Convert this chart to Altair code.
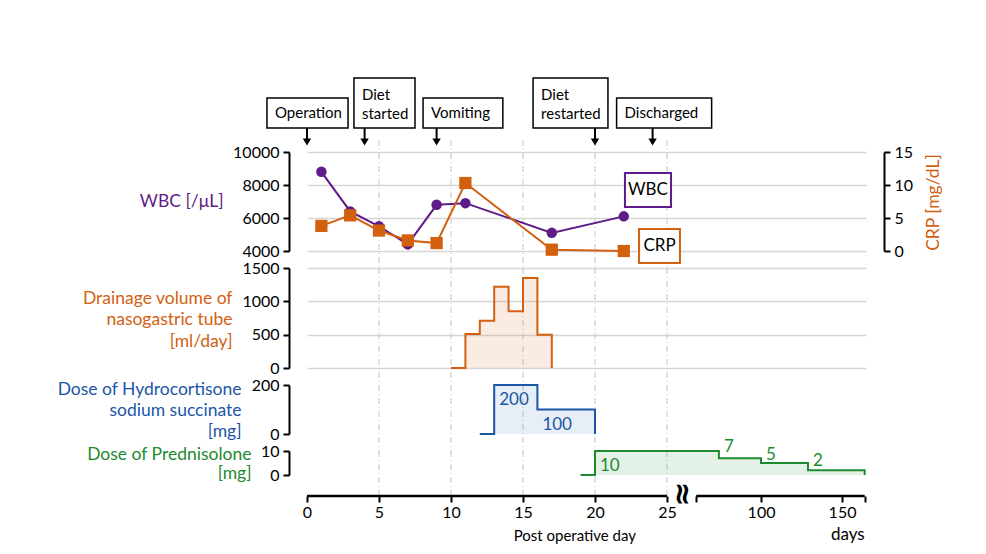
import altair as alt
import pandas as pd

FONT = "Lato"
PURPLE = "#5f1b87"
ORANGE = "#d2600f"
BLUE = "#1a56a8"
GREEN = "#1d8a30"
GRID = "#d6d6d6"
VLINE = "#c4c4c4"

# ---- broken x axis mapping (days 0-25 linear, then compressed after the break)
P100 = 31.53      # position of day 100
K = 0.1125        # position units per day after the break
X_MAX = 38.82
POS_EXPR = f"datum.day <= 25 ? datum.day : {P100} + (datum.day - 100) * {K}"


def pos(d):
    return d if d <= 25 else P100 + (d - 100) * K


# ---- data
lab_days = [1, 3, 5, 7, 9, 11, 17, 22]
wbc = [8800, 6400, 5500, 4400, 6800, 6900, 5100, 6100]
crp = [3.8, 5.4, 3.1, 1.6, 1.2, 10.3, 0.2, 0.0]

drain_days = [10, 11, 12, 13, 14, 15, 16, 17]
drain_vol = [0, 510, 710, 1220, 850, 1350, 500, 0]

hydro_days = [12, 13, 16, 20]
hydro_dose = [0, 200, 100, 0]
hydro_lab_days = [13, 16]
hydro_lab_val = [139, 38]
hydro_lab_txt = ["200", "100"]

pred_days = [19, 20, 74, 100, 129, 164]
pred_dose = [0, 10, 7, 5, 2, 0]
pred_lab_days = [20, 74, 100, 129]
pred_lab_val = [3.6, 11.6, 8.4, 6.0]
pred_lab_txt = ["10", "7", "5", "2"]

event_text = ["Operation", "Diet\nstarted", "Vomiting", "Diet\nrestarted", "Discharged"]
event_days = [0, 4, 9, 20, 24]
event_lines = [1, 2, 1, 2, 1]
event_box_left = [-2.78, 3.26, 8.06, 15.7, 21.5]
event_box_right = [2.85, 7.5, 13.6, 20.9, 28.1]

vline_days = [5, 10, 15, 20, 25]

tick_days = [0, 5, 10, 15, 20, 25, 60, 100, 150, 164]
tick_text = ["0", "5", "10", "15", "20", "25", "", "100", "150", ""]
seg_start = [0, 60]
seg_end = [25, 164]

lab_df = pd.DataFrame({"day": lab_days, "wbc": wbc, "crp": crp})
drain_df = pd.DataFrame({"day": drain_days, "vol": drain_vol})
hydro_df = pd.DataFrame({"day": hydro_days, "dose": hydro_dose})
hydro_lab_df = pd.DataFrame({"day": hydro_lab_days, "v": hydro_lab_val, "t": hydro_lab_txt})
pred_df = pd.DataFrame({"day": pred_days, "dose": pred_dose})
pred_lab_df = pd.DataFrame({"day": pred_lab_days, "v": pred_lab_val, "t": pred_lab_txt})
ev_df = pd.DataFrame({"label": event_text, "day": event_days, "nl": event_lines,
                      "bx0": event_box_left, "bx1": event_box_right})
vl_df = pd.DataFrame({"day": vline_days})
seg_df = pd.DataFrame({"a": [pos(d) for d in seg_start], "b": [pos(d) for d in seg_end]})

H1, H2, H3, H4 = 99, 100, 49, 24
W = 559
GAP = 17
XOFF = 21
TICK_FS = 16
TITLE_FS = 17.5
NOVIEW = alt.ViewBackground(stroke="transparent", strokeWidth=0)

xscale = alt.Scale(domain=[0, X_MAX], nice=False, zero=False)


def xenc(field="pos", axis=None):
    return alt.X(f"{field}:Q", scale=xscale, axis=axis, title=None)


def one(**kw):
    return alt.Chart(pd.DataFrame({k: [v] for k, v in kw.items()}))


def yaxis(values, title, color, orient="left", grid=True, **kw):
    return alt.Axis(values=values, orient=orient, grid=grid, gridColor=GRID, gridWidth=1.5,
                    offset=18, domainColor="black", domainWidth=2, tickColor="black",
                    tickWidth=2, tickSize=6, labelFontSize=TICK_FS, labelFont=FONT,
                    labelColor="black", labelPadding=4, format="d", title=title,
                    titleColor=color, titleFontSize=TITLE_FS, titleFont=FONT,
                    titleFontWeight="normal", **kw)


def left_title(x, y, lh=21):
    return dict(titleAngle=0, titleAlign="right", titleBaseline="middle",
                titleX=x, titleY=y, titleLineHeight=lh)


def vrules(top, bottom, axis=None):
    return alt.Chart(vl_df).transform_calculate(pos=POS_EXPR).mark_rule(
        color=VLINE, strokeDash=[6, 3, 1, 3], strokeWidth=1, clip=False
    ).encode(x=xenc(axis=axis), y=alt.value(top), y2=alt.value(bottom))


# ---------------- Panel 1: WBC / CRP
wbc_base = alt.Chart(lab_df).transform_calculate(pos=POS_EXPR).encode(
    x=xenc(),
    y=alt.Y("wbc:Q", scale=alt.Scale(domain=[4000, 10000], nice=False, zero=False),
            axis=yaxis([4000, 6000, 8000, 10000], "WBC [/μL]", PURPLE, **left_title(-66, 49))),
)
crp_base = alt.Chart(lab_df).transform_calculate(pos=POS_EXPR).encode(
    x=xenc(),
    y=alt.Y("crp:Q", scale=alt.Scale(domain=[0, 15], nice=False),
            axis=yaxis([0, 5, 10, 15], "CRP [mg/dL]", ORANGE, orient="right", grid=False,
                       titleAngle=270, titleAlign="center", titleBaseline="middle",
                       titleX=49, titleY=50)),
)

ev = alt.Chart(ev_df).transform_calculate(pos=POS_EXPR)
ev1 = ev.transform_filter("datum.nl == 1")
ev2 = ev.transform_filter("datum.nl == 2")
box_style = dict(fill="white", stroke="black", strokeWidth=1.5, clip=False)

leg_wbc = one(x0=22.08, x1=25.28, xc=23.68, t="WBC")
leg_crp = one(x0=23.06, x1=25.9, xc=24.48, t="CRP")

wbc_layer = alt.layer(
    vrules(-12, H1 + GAP),
    wbc_base.mark_line(color=PURPLE, strokeWidth=2),
    wbc_base.mark_point(shape="circle", filled=True, size=110, color=PURPLE, opacity=1),
    ev1.mark_rect(**box_style).encode(x=xenc("bx0"), x2="bx1:Q", y=alt.value(-54), y2=alt.value(-24)),
    ev2.mark_rect(**box_style).encode(x=xenc("bx0"), x2="bx1:Q", y=alt.value(-74), y2=alt.value(-24)),
    ev1.mark_text(align="left", baseline="middle", dx=8, fontSize=15, font=FONT, color="black")
       .encode(x=xenc("bx0"), y=alt.value(-39), text="label:N"),
    ev2.mark_text(align="left", baseline="middle", dx=8, fontSize=15, font=FONT, color="black",
                  lineBreak="\n", lineHeight=19)
       .encode(x=xenc("bx0"), y=alt.value(-57), text="label:N"),
    ev.mark_rule(color="black", strokeWidth=2, clip=False)
      .encode(x=xenc(), y=alt.value(-24), y2=alt.value(-11)),
    ev.mark_point(shape="triangle-down", filled=True, size=70, color="black", opacity=1)
      .encode(x=xenc(), y=alt.value(-10)),
    leg_wbc.mark_rect(fill="white", stroke=PURPLE, strokeWidth=2, clip=False).encode(
        x=xenc("x0"), x2="x1:Q", y=alt.value(21), y2=alt.value(55)),
    leg_wbc.mark_text(fontSize=17, font=FONT, color="black", baseline="middle").encode(
        x=xenc("xc"), y=alt.value(38), text="t:N"),
    leg_crp.mark_rect(fill="white", stroke=ORANGE, strokeWidth=2, clip=False).encode(
        x=xenc("x0"), x2="x1:Q", y=alt.value(77), y2=alt.value(111)),
    leg_crp.mark_text(fontSize=17, font=FONT, color="black", baseline="middle").encode(
        x=xenc("xc"), y=alt.value(94), text="t:N"),
)
crp_layer = alt.layer(
    crp_base.mark_line(color=ORANGE, strokeWidth=2),
    crp_base.mark_point(shape="square", filled=True, size=150, color=ORANGE, opacity=1),
)

panel1 = alt.layer(wbc_layer, crp_layer).resolve_scale(y="independent").properties(
    width=W, height=H1, view=NOVIEW)

# ---------------- Panel 2: drainage
drain_base = alt.Chart(drain_df).transform_calculate(pos=POS_EXPR).encode(
    x=xenc(),
    y=alt.Y("vol:Q", scale=alt.Scale(domain=[0, 1500], nice=False),
            axis=yaxis([0, 500, 1000, 1500],
                       ["Drainage volume of", "nasogastric tube", "[ml/day]"], ORANGE,
                       **left_title(-57, 30, 21.5))),
)
panel2 = alt.layer(
    vrules(0, H2 + GAP),
    drain_base.mark_area(interpolate="step-after", color=ORANGE, opacity=0.12),
    drain_base.mark_line(interpolate="step-after", color=ORANGE, strokeWidth=2),
).properties(width=W, height=H2, view=NOVIEW)

# ---------------- Panel 3: hydrocortisone
hscale = alt.Scale(domain=[0, 200], nice=False)
hydro_base = alt.Chart(hydro_df).transform_calculate(pos=POS_EXPR).encode(
    x=xenc(),
    y=alt.Y("dose:Q", scale=hscale,
            axis=yaxis([0, 100, 200],
                       ["Dose of Hydrocortisone", "sodium succinate", "[mg]"], BLUE, grid=False,
                       **left_title(-48, 4, 21))),
)
hydro_txt = alt.Chart(hydro_lab_df).transform_calculate(pos=POS_EXPR).mark_text(
    align="left", baseline="middle", dx=5, fontSize=17, font=FONT, color=BLUE
).encode(x=xenc(), y=alt.Y("v:Q", scale=hscale), text="t:N")
panel3 = alt.layer(
    vrules(0, H3 + GAP),
    hydro_base.mark_area(interpolate="step-after", color=BLUE, opacity=0.1),
    hydro_base.mark_line(interpolate="step-after", color=BLUE, strokeWidth=2),
    hydro_txt,
).properties(width=W, height=H3, view=NOVIEW)

# ---------------- Panel 4: prednisolone + broken x axis
label_expr = "''"
for d, t in reversed(list(zip(tick_days, tick_text))):
    label_expr = f"abs(datum.value - {pos(d):.4f}) < 0.01 ? '{t}' : " + label_expr

xaxis = alt.Axis(values=[pos(d) for d in tick_days], labelExpr=label_expr, domain=False,
                 grid=False, offset=XOFF, tickColor="black", tickWidth=2, tickSize=6,
                 labelFontSize=TICK_FS, labelFont=FONT, labelColor="black", labelPadding=2,
                 labelFlush=False, labelOverlap=False, title=None)

pscale = alt.Scale(domain=[0, 10], nice=False)
pred_base = alt.Chart(pred_df).transform_calculate(pos=POS_EXPR).encode(
    x=xenc(axis=xaxis),
    y=alt.Y("dose:Q", scale=pscale,
            axis=yaxis([0, 10], ["Dose of Prednisolone", "[mg]"], GREEN, grid=False,
                       **left_title(-38, 3, 19))),
)
pred_txt = alt.Chart(pred_lab_df).transform_calculate(pos=POS_EXPR).mark_text(
    align="left", baseline="middle", dx=5, fontSize=17, font=FONT, color=GREEN
).encode(x=xenc(axis=xaxis), y=alt.Y("v:Q", scale=pscale), text="t:N")
axis_segments = alt.Chart(seg_df).mark_rule(color="black", strokeWidth=2.5, clip=False).encode(
    x=xenc("a", axis=xaxis), x2="b:Q", y=alt.value(H4 + XOFF))
break_mark = one(x=26.04, t="≈").mark_text(
    angle=90, fontSize=30, fontWeight="bold", font="DejaVu Sans", color="black",
    baseline="middle", align="center").encode(
    x=xenc("x", axis=xaxis), y=alt.value(H4 + XOFF - 2), text="t:N")
xtitle = one(x=18.6, t="Post operative day").mark_text(
    fontSize=15, font=FONT, color="black", baseline="alphabetic", align="center").encode(
    x=xenc("x", axis=xaxis), y=alt.value(90), text="t:N")
days_txt = one(x=pos(164), t="days").mark_text(
    fontSize=17, font=FONT, color="black", baseline="alphabetic", align="right").encode(
    x=xenc("x", axis=xaxis), y=alt.value(89), text="t:N")

panel4 = alt.layer(
    vrules(0, H4 + XOFF, axis=xaxis),
    pred_base.mark_area(interpolate="step-after", color=GREEN, opacity=0.12),
    pred_base.mark_line(interpolate="step-after", color=GREEN, strokeWidth=2),
    pred_txt, axis_segments, break_mark, xtitle, days_txt,
).properties(width=W, height=H4, view=NOVIEW)

chart = alt.vconcat(panel1, panel2, panel3, panel4, spacing=GAP, bounds="flush").properties(
    padding={"left": 48, "top": 69, "right": 5, "bottom": 5}
).configure_view(stroke="transparent", strokeWidth=0).configure(font=FONT)

chart.save("out.html", embed_options={"renderer": "svg", "actions": False})
